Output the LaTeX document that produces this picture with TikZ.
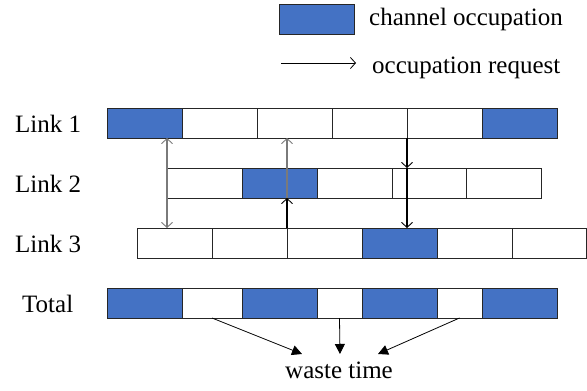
\documentclass[tikz,border=0pt]{standalone}
\usepackage{fontspec}
\setmainfont{Liberation Serif}
\usetikzlibrary{arrows.meta}
\definecolor{occblue}{HTML}{4472C4}
\definecolor{reqgray}{HTML}{7A7A7A}
\tikzset{
  cell/.style={draw=black!85, line width=0.9pt, fill=white, minimum height=30pt, inner sep=0pt, outer sep=0pt, anchor=north west},
  occ/.style={cell, fill=occblue},
  lbl/.style={inner sep=0pt, anchor=base west, font=\fontsize{25}{29}\selectfont},
  req/.style={line width=1.1pt, draw=reqgray, -{Straight Barb[length=5pt,width=11pt,line width=0.9pt]}},
  reqb/.style={line width=1.4pt, draw=black, -{Straight Barb[length=5pt,width=11pt,line width=0.9pt]}},
  waste/.style={line width=0.8pt, -{Triangle[length=10pt,width=10pt]}}
}
\begin{document}
\begin{tikzpicture}[x=1pt,y=-1pt]
\useasboundingbox (0,0) rectangle (587,391);
% legend
\node[occ, minimum width=75pt] (leg) at (279,4) {};
\node[lbl] (legt) at (369,25) {channel occupation};
\coordinate (ra) at (281,63);
\coordinate (rb) at (356,63);
\draw[line width=0.8pt, -{Straight Barb[length=5pt,width=11pt,line width=0.8pt]}] (ra) -- (rb);
\node[lbl] (reqt) at (372,73) {occupation request};
% labels
\node[lbl] (n1) at (15,132) {Link 1};
\node[lbl] (n2) at (15,192) {Link 2};
\node[lbl] (n3) at (15,252) {Link 3};
\node[lbl] (nt) at (22,312) {Total};
% link 1
\node[occ,  minimum width=75pt] (l1a) at (107,108) {};
\node[cell, minimum width=75pt] (l1b) at (182,108) {};
\node[cell, minimum width=75pt] (l1c) at (257,108) {};
\node[cell, minimum width=75pt] (l1d) at (332,108) {};
\node[cell, minimum width=75pt] (l1e) at (407,108) {};
\node[occ,  minimum width=75pt] (l1f) at (482,108) {};
% link 2
\node[cell, minimum width=75pt] (l2a) at (167,168) {};
\node[occ,  minimum width=75pt] (l2b) at (242,168) {};
\node[cell, minimum width=75pt] (l2c) at (317,168) {};
\node[cell, minimum width=74pt] (l2d) at (392,168) {};
\node[cell, minimum width=75pt] (l2e) at (466,168) {};
% link 3
\node[cell, minimum width=75pt] (l3a) at (137,228) {};
\node[cell, minimum width=75pt] (l3b) at (212,228) {};
\node[cell, minimum width=75pt] (l3c) at (287,228) {};
\node[occ,  minimum width=75pt] (l3d) at (362,228) {};
\node[cell, minimum width=75pt] (l3e) at (437,228) {};
\node[cell, minimum width=74pt] (l3f) at (512,228) {};
% total
\node[occ,  minimum width=75pt] (t1) at (107,288) {};
\node[cell, minimum width=60pt] (t2) at (182,288) {};
\node[occ,  minimum width=75pt] (t3) at (242,288) {};
\node[cell, minimum width=45pt] (t4) at (317,288) {};
\node[occ,  minimum width=75pt] (t5) at (362,288) {};
\node[cell, minimum width=45pt] (t6) at (437,288) {};
\node[occ,  minimum width=75pt] (t7) at (482,288) {};
% requests
\draw[req, {Straight Barb[length=5pt,width=11pt,line width=0.9pt]}-{Straight Barb[length=5pt,width=11pt,line width=0.9pt]}]
  (l1a.south -| l2a.west) -- (l3a.north -| l2a.west);
\coordinate (m1) at (l3c.north west |- l2b.south);
\draw[reqb, line width=1.2pt] (l3c.north west) -- (m1);
\draw[req] (m1) -- (l3c.north west |- l1a.south);
\coordinate (m2) at (l1e.south west |- l2a.north);
\draw[reqb] (l1e.south west) -- (m2);
\draw[reqb] (m2) -- (l1e.south west |- l3a.north);
% waste time
\node[lbl] (wt) at (285,378) {waste time};
\coordinate (w1) at (302,354);
\coordinate (w2) at (340,354);
\coordinate (w3) at (378,354);
\draw[waste] (t2.south) -- (w1);
\draw[waste] (t4.south) -- (w2);
\draw[waste] (t6.south) -- (w3);
\end{tikzpicture}
\end{document}
